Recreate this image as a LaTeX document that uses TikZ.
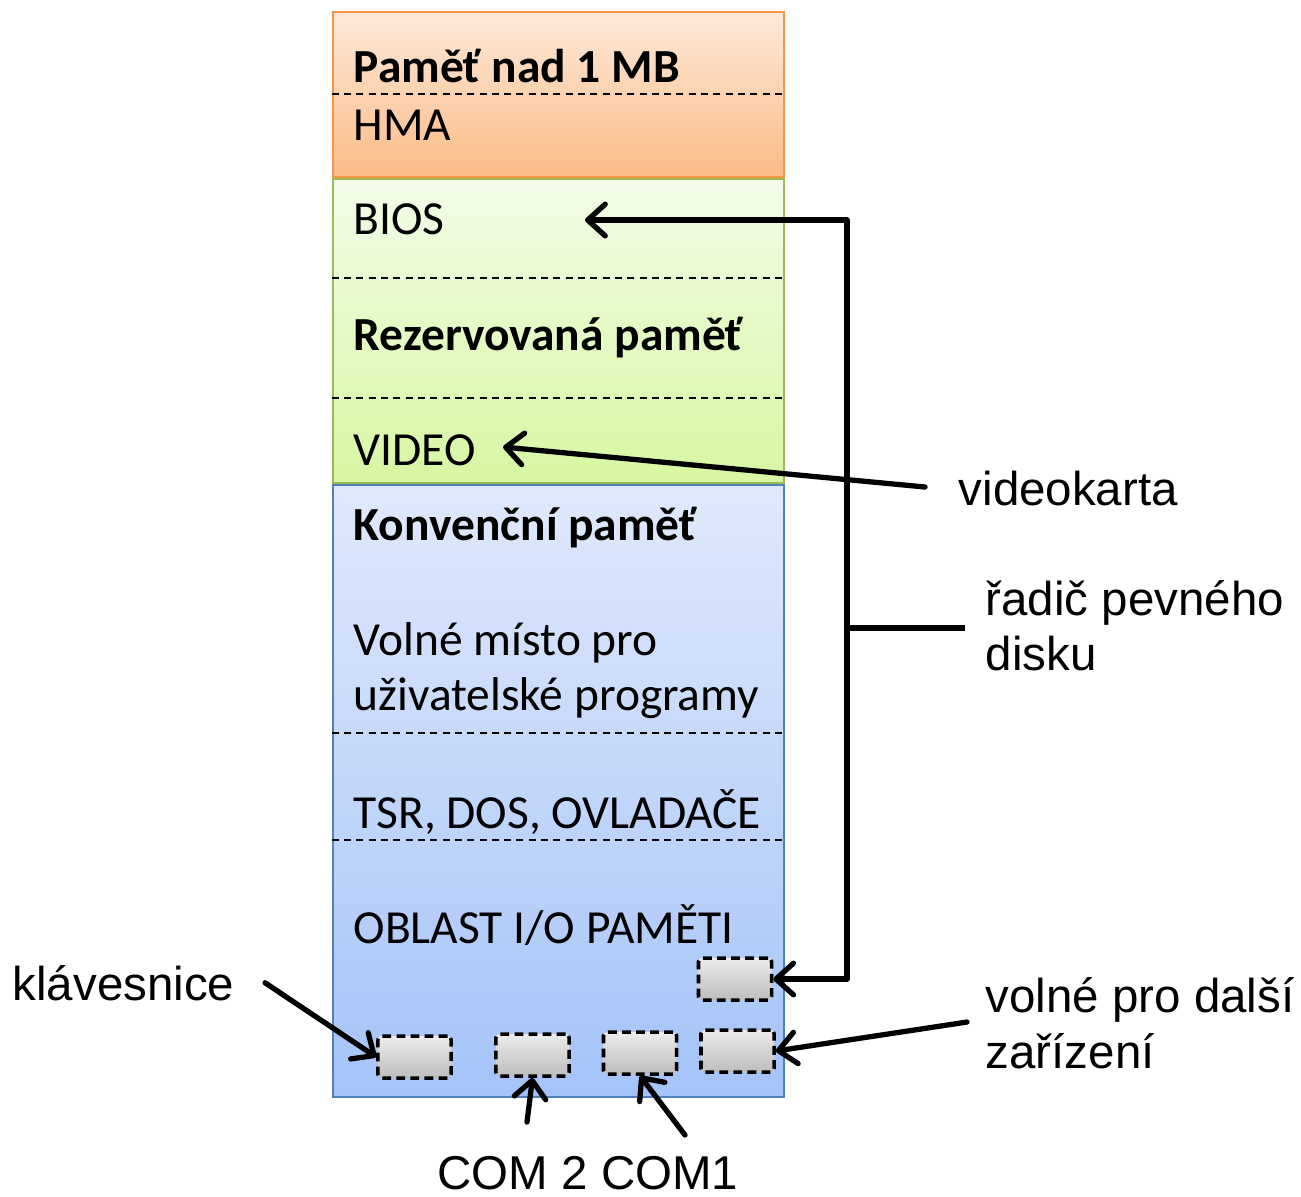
\documentclass[tikz,border=0pt]{standalone}
\usepackage{fontspec}
\setmainfont{Carlito}
\newfontfamily\labelfont{Liberation Sans}
\usetikzlibrary{arrows.meta}

\definecolor{orangeline}{HTML}{F79646}
\definecolor{orangetop}{HTML}{FDE9DA}
\definecolor{orangebot}{HTML}{FBBB86}
\definecolor{greenline}{HTML}{9BBB59}
\definecolor{greentop}{HTML}{F3FCE8}
\definecolor{greenbot}{HTML}{D6F7A2}
\definecolor{blueline}{HTML}{4F81BD}
\definecolor{bluetop}{HTML}{E0E9FC}
\definecolor{bluebot}{HTML}{A4C3F8}
\definecolor{slottop}{HTML}{ECECEC}
\definecolor{slotbot}{HTML}{BDBDBD}

\begin{document}
\begin{tikzpicture}
		[
			x=0.01cm, y=-0.01cm,
			band/.style={draw, rectangle, minimum width=4.51cm, inner sep=0pt, line width=0.6pt},
			slot/.style={draw, rectangle, rounded corners=1pt, minimum width=0.73cm, minimum height=0.42cm, top color=slottop, bottom color=slotbot, line width=1pt, dash pattern=on 2.5pt off 1.5pt},
			txt/.style={anchor=base west, inner sep=0pt, font=\fontsize{13.5}{16}\selectfont},
			ttl/.style={txt, font=\fontsize{13.5}{16}\selectfont\bfseries},
			lbl/.style={anchor=base west, inner sep=0pt, font=\labelfont\fontsize{13.5}{16}\selectfont},
			divider/.style={line width=0.5pt, dash pattern=on 2pt off 1.5pt},
			arr/.style={-{Straight Barb[round, length=5pt, width=9pt]}, line width=1.5pt, line cap=round, line join=round}
		]
		\useasboundingbox (0,0) rectangle (1301,1196);

		% memory bands
		\node[band, minimum height=1.65cm, draw=orangeline, top color=orangetop, bottom color=orangebot] (ext) at (558.5,94.5) {};
		\node[band, minimum height=3.04cm, draw=greenline, top color=greentop, bottom color=greenbot] (upper) at (558.5,331) {};
		\node[band, minimum height=6.12cm, draw=blueline, top color=bluetop, bottom color=bluebot] (conv) at (558.5,791) {};

		\draw[divider] (ext.west |- 0,94) -- (ext.east |- 0,94);
		\draw[divider] (upper.west |- 0,278) -- (upper.east |- 0,278);
		\draw[divider] (upper.west |- 0,398) -- (upper.east |- 0,398);
		\draw[divider] (conv.west |- 0,733) -- (conv.east |- 0,733);
		\draw[divider] (conv.west |- 0,840) -- (conv.east |- 0,840);

		\node[ttl] (extname) at (353,82) {Paměť nad 1 MB};
		\node[txt] (hma) at (353,140) {HMA};
		\node[txt] (bios) at (353,234) {BIOS};
		\node[ttl] (resname) at (353,350) {Rezervovaná paměť};
		\node[txt] (video) at (353,465) {VIDEO};
		\node[ttl] (convname) at (353,540) {Konvenční paměť};
		\node[txt] (user1) at (353,655) {Volné místo pro};
		\node[txt] (user2) at (353,710) {uživatelské programy};
		\node[txt] (tsr) at (353,828) {TSR, DOS, OVLADAČE};
		\node[txt] (io) at (353,943) {OBLAST I/O PAMĚTI};

		% I/O slots
		\node[slot] (hd) at (735,979) {};
		\node[slot] (kbd) at (414.5,1057) {};
		\node[slot] (com2) at (532.5,1055) {};
		\node[slot] (com1) at (640,1053) {};
		\node[slot] (spare) at (737.5,1051) {};

		% labels
		\node[lbl] (vk) at (958,505) {videokarta};
		\node[lbl] (hdc1) at (985,615) {řadič pevného};
		\node[lbl] (hdc2) at (985,670) {disku};
		\node[lbl] (kl) at (12,1000) {klávesnice};
		\node[lbl] (sp1) at (985,1012) {volné pro další};
		\node[lbl] (sp2) at (985,1068) {zařízení};
		\node[lbl] (comlab) at (437,1189) {COM 2 COM1};

		\coordinate (biosin) at (585,220);
		\coordinate (videoin) at (503,447);
		\coordinate (vkout) at (925,487);
		\coordinate (hdcout) at (965,628);
		\coordinate (jn) at (847,628);
		\coordinate (c2out) at (527,1122);
		\coordinate (c1out) at (685,1135);
		\coordinate (spout) at (967,1022);

		\draw[arr] (vkout) -- (videoin);
		\draw[line width=1.5pt] (hdcout) -- (jn);
		\draw[arr] (jn) |- (biosin);
		\draw[arr] (jn) |- (hd.east);
		\draw[arr] ([xshift=3mm]kl.east) -- (kbd.west);
		\draw[arr] (c2out) -- (com2.south);
		\draw[arr] (c1out) -- (com1.south);
		\draw[arr] (spout) -- (spare.east);
	\end{tikzpicture}
\end{document}
